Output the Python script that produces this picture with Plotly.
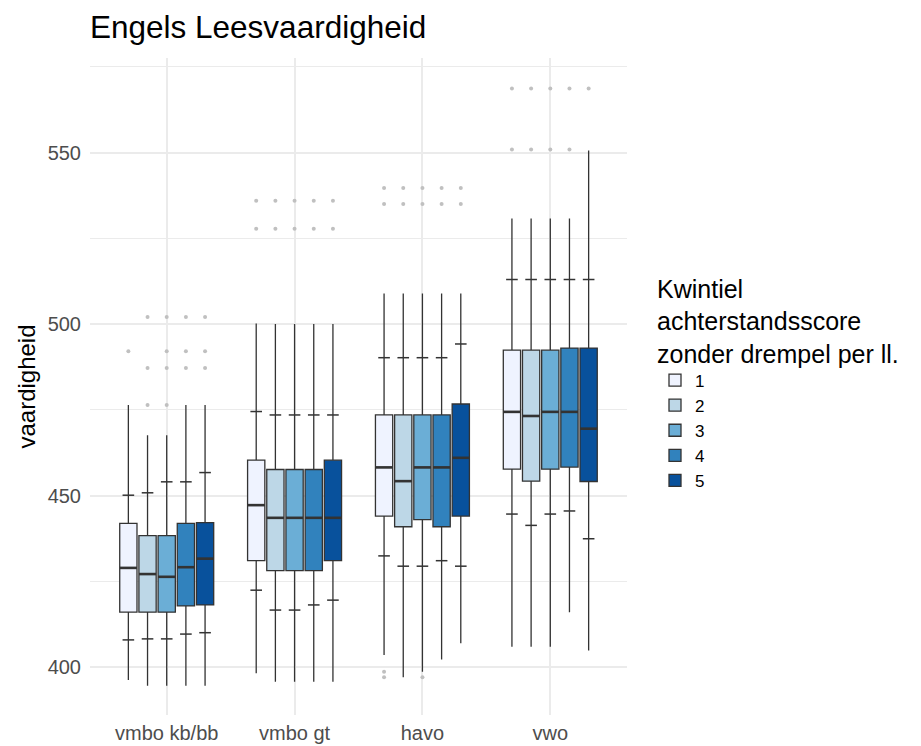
import plotly.graph_objects as go

categories = ["vmbo kb/bb", "vmbo gt", "havo", "vwo"]
quintiles = ["1", "2", "3", "4", "5"]
colors = ["#EFF3FF", "#BDD7E7", "#6BAED6", "#3182BD", "#08519C"]

# per quintile, values for [vmbo kb/bb, vmbo gt, havo, vwo]
whisker_low = [
    [396.2, 398.2, 403.5, 405.9],
    [394.5, 395.7, 397.0, 405.9],
    [394.5, 395.7, 398.6, 405.9],
    [394.5, 395.7, 402.2, 416.0],
    [394.5, 395.7, 406.9, 404.8],
]
p10 = [
    [407.9, 422.4, 432.4, 444.6],
    [408.2, 416.6, 429.4, 441.3],
    [408.2, 416.6, 429.4, 444.6],
    [409.6, 418.1, 431.0, 445.5],
    [410.0, 419.5, 429.4, 437.4],
]
q1 = [
    [416.0, 431.0, 444.0, 457.7],
    [416.0, 428.1, 440.9, 454.2],
    [416.0, 428.1, 443.0, 457.7],
    [417.8, 428.1, 440.9, 458.3],
    [418.1, 431.0, 444.0, 454.1],
]
median = [
    [428.9, 447.2, 458.2, 474.4],
    [427.1, 443.5, 454.2, 473.2],
    [426.3, 443.5, 458.2, 474.4],
    [429.1, 443.5, 458.2, 474.4],
    [431.6, 443.5, 461.0, 469.5],
]
q3 = [
    [441.9, 460.3, 473.5, 492.4],
    [438.3, 457.6, 473.5, 492.4],
    [438.3, 457.6, 473.5, 492.4],
    [441.9, 457.6, 473.5, 493.0],
    [442.1, 460.3, 476.7, 493.0],
]
p90 = [
    [450.1, 474.5, 490.2, 513.0],
    [450.8, 473.5, 490.2, 513.0],
    [454.0, 473.5, 490.2, 513.0],
    [454.0, 473.5, 490.2, 513.0],
    [456.7, 473.5, 494.2, 513.0],
]
whisker_high = [
    [476.4, 500.2, 508.9, 530.8],
    [467.6, 500.0, 508.9, 530.8],
    [467.6, 500.0, 508.9, 530.8],
    [476.4, 500.0, 508.9, 530.8],
    [476.4, 500.0, 508.9, 550.6],
]
outliers = [
    [[492.1], [536.0, 527.8], [539.7, 535.0, 398.6, 397.0], [568.7, 550.9]],
    [[502.1, 487.2, 476.4], [536.0, 527.8], [539.7, 535.0], [568.7, 550.9]],
    [[502.1, 492.1, 487.2, 476.4], [536.0, 527.8], [539.7, 535.0, 397.0], [568.7, 550.9]],
    [[502.1, 492.1, 487.2], [536.0, 527.8], [539.7, 535.0], [568.7, 550.9]],
    [[502.1, 492.1, 487.2], [536.0, 527.8], [539.7, 535.0], [568.7]],
]

DODGE = 0.15
BOXW = 0.135
LINE = "#333333"

# the page body adds an 8px offset; the figure is sized to fill the rest of the window
FIG_W, FIG_H = 913, 738

fig = go.Figure()
n_q = len(quintiles)
for k, q in enumerate(quintiles):
    pos = [i + 1 + (k - (n_q - 1) / 2) * DODGE for i in range(len(categories))]
    fig.add_trace(go.Box(
        x=pos, q1=q1[k], median=median[k], q3=q3[k],
        lowerfence=whisker_low[k], upperfence=whisker_high[k],
        width=BOXW, whiskerwidth=0, boxpoints=False,
        fillcolor=colors[k], line=dict(color=LINE, width=1.3),
        name=q, legendgroup=q, hoverinfo="skip",
    ))
    # thicker median
    fig.add_trace(go.Scatter(
        x=pos, y=median[k], mode="markers", showlegend=False, hoverinfo="skip",
        marker=dict(symbol="line-ew", size=12.2, line=dict(color=LINE, width=2.6)),
    ))
    # percentile caps
    fig.add_trace(go.Scatter(
        x=pos + pos, y=p10[k] + p90[k], mode="markers", showlegend=False, hoverinfo="skip",
        marker=dict(symbol="line-ew", size=8.3, line=dict(color=LINE, width=1.5)),
    ))
    # outliers
    ox, oy = [], []
    for i, vals in enumerate(outliers[k]):
        ox += [pos[i]] * len(vals)
        oy += vals
    fig.add_trace(go.Scatter(
        x=ox, y=oy, mode="markers", showlegend=False, hoverinfo="skip",
        marker=dict(symbol="circle", size=4, color="#C0C0C0"),
    ))

fig.update_layout(
    width=FIG_W, height=FIG_H,
    margin=dict(l=82, r=294, t=50, b=31),
    paper_bgcolor="white", plot_bgcolor="white",
    font=dict(family="Liberation Sans, Arial, sans-serif", color="black"),
    title=dict(text="Engels Leesvaardigheid", x=0, xref="paper", xanchor="left",
               y=1 - 19 / FIG_H, yref="container", yanchor="middle",
               font=dict(size=31.5, color="black")),
    showlegend=True,
    legend=dict(
        title=dict(text="Kwintiel<br>achterstandsscore<br>zonder drempel per ll.",
                   font=dict(size=25, color="black")),
        font=dict(size=17, color="black"),
        xref="container", x=647 / FIG_W, yref="container", y=1 - 257 / FIG_H,
        xanchor="left", yanchor="top", tracegroupgap=0,
    ),
)
fig.update_xaxes(
    range=[0.4, 4.6], tickmode="array", tickvals=[1, 2, 3, 4], ticktext=categories,
    showgrid=True, gridcolor="#EBEBEB", gridwidth=1.5, zeroline=False, showline=False,
    ticks="", tickfont=dict(size=20, color="#4D4D4D"), ticklabelstandoff=4,
    automargin=False,
)
fig.update_yaxes(
    range=[386, 577.6], tickmode="linear", tick0=400, dtick=50,
    showgrid=True, gridcolor="#EBEBEB", gridwidth=1.5, zeroline=False, showline=False,
    ticks="", tickfont=dict(size=20, color="#4D4D4D"), ticklabelstandoff=8,
    minor=dict(tick0=400, dtick=25, showgrid=True, gridcolor="#EBEBEB", gridwidth=1),
    title=dict(text="vaardigheid", font=dict(size=24, color="black"), standoff=5),
    automargin=False,
)

fig.write_html("out.html")
